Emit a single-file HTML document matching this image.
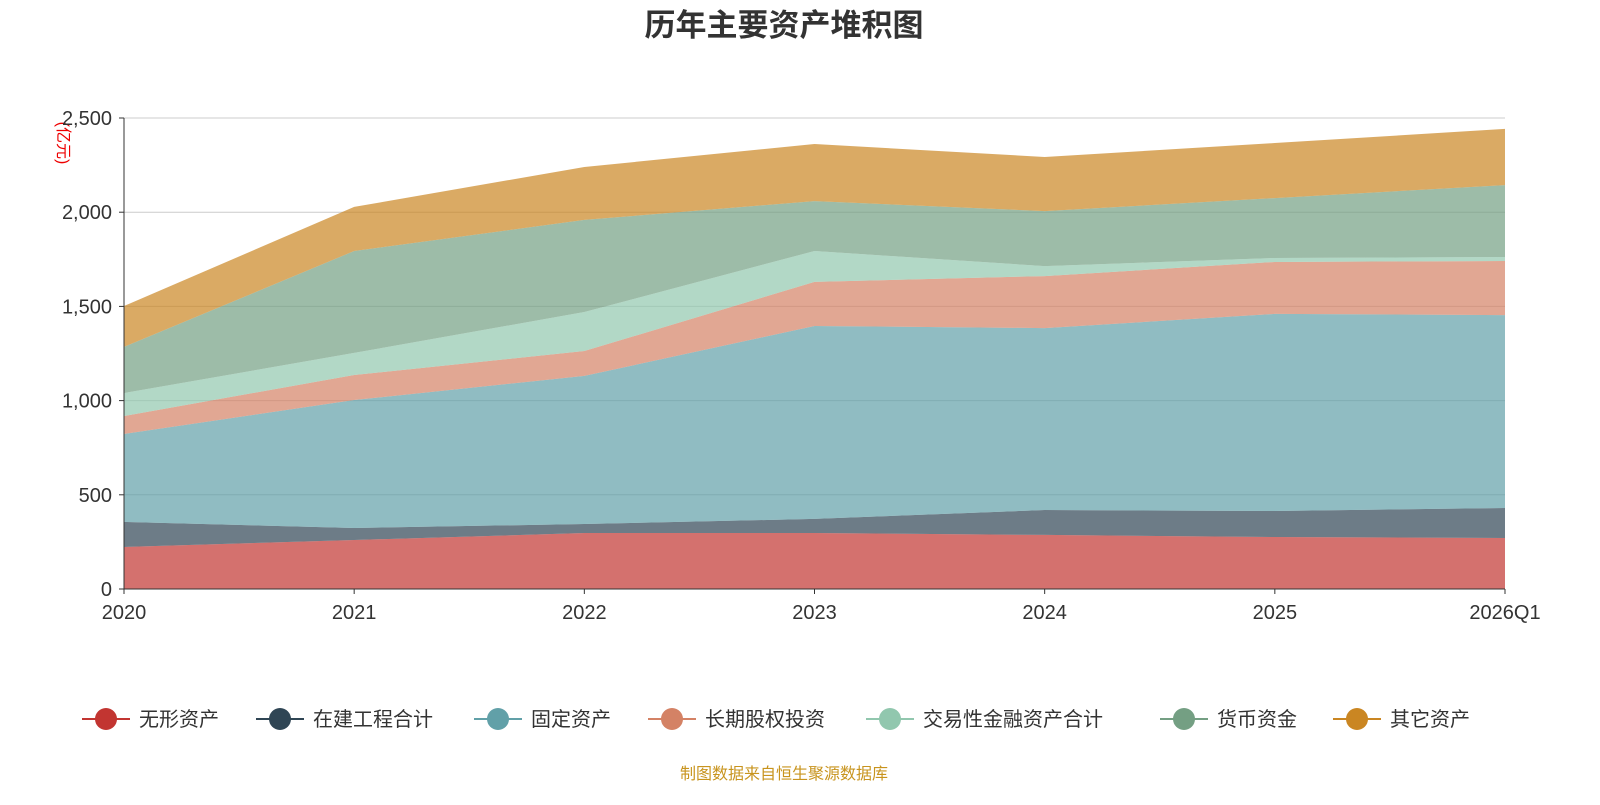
<!DOCTYPE html>
<html><head><meta charset="utf-8">
<style>
body{margin:0;background:#fff;font-family:"Liberation Sans","Noto Sans CJK SC",sans-serif;}
svg text{font-family:"Liberation Sans","Noto Sans CJK SC",sans-serif;}
</style></head>
<body>
<svg id="chart" width="1600" height="800" xmlns="http://www.w3.org/2000/svg">
<text x="784" y="36" text-anchor="middle" font-size="31" font-weight="bold" fill="#333">历年主要资产堆积图</text>
<text transform="translate(58,143) rotate(90)" text-anchor="middle" font-size="16" fill="#e00">(亿元)</text>
<text x="784" y="779" text-anchor="middle" font-size="16" fill="#c8941e">制图数据来自恒生聚源数据库</text>
<g id="grid"></g><g id="areas"></g><g id="axes"></g><g id="legend"></g>
</svg>
<script>
const categories=["2020","2021","2022","2023","2024","2025","2026Q1"];
const seriesNames=["无形资产","在建工程合计","固定资产","长期股权投资","交易性金融资产合计","货币资金","其它资产"];
const wuxing=[223,260,297,297,287,276,271];
const zaijian=[133,64,48,75,132,138,159];
const guding=[467,679,786,1024,966,1046,1024];
const changqi=[95,133,132,234,276,276,287];
const jiaoyi=[122,117,207,164,53,21,21];
const huobi=[245,541,489,265,292,318,382];
const qita=[217,234,281,303,287,292,298];
const yTicks=[0,500,1000,1500,2000,2500];
const yTickLabels=["0","500","1,000","1,500","2,000","2,500"];
const seriesValues=[wuxing,zaijian,guding,changqi,jiaoyi,huobi,qita];
const colors=["#c23531","#2f4554","#61a0a8","#d48265","#91c7ae","#749f83","#ca8622"];
const X0=124,X1=1505,Y0=589,YTOP=118,YMAX=2500;
const xs=i=>X0+(X1-X0)*i/(categories.length-1);
const ys=v=>Y0-(Y0-YTOP)*v/YMAX;
const NS="http://www.w3.org/2000/svg";
function mk(tag,attrs,parent){const e=document.createElementNS(NS,tag);for(const k in attrs)e.setAttribute(k,attrs[k]);parent.appendChild(e);return e;}
const grid=document.getElementById('grid'),areas=document.getElementById('areas'),axes=document.getElementById('axes'),legend=document.getElementById('legend');
yTicks.forEach((t,i)=>{
  if(t>0){const l=mk('line',{x1:X0,x2:X1,y1:ys(t),y2:ys(t),stroke:'#ccc','stroke-width':1},grid);
  
  }
  const tk=mk('line',{x1:X0-5,x2:X0,y1:ys(t),y2:ys(t),stroke:'#333'},axes);
  
  
  const tx=mk('text',{x:X0-12,y:ys(t)+7,'text-anchor':'end','font-size':20,fill:'#333'},axes);
  tx.textContent=yTickLabels[i];
  
  
});
let base=categories.map(()=>0);
seriesValues.forEach((vals,s)=>{
  const top=base.map((b,i)=>b+vals[i]);
  let d='M'+categories.map((c,i)=>xs(i)+','+ys(top[i])).join(' L');
  for(let i=categories.length-1;i>=0;i--)d+=' L'+xs(i)+','+ys(base[i]);
  d+='Z';
  const p=mk('path',{d:d,fill:colors[s],'fill-opacity':0.7,stroke:'none'},areas);
  
  
  base=top;
});
const ya=mk('line',{x1:X0,x2:X0,y1:YTOP,y2:Y0,stroke:'#333'},axes);


const xa=mk('line',{x1:X0,x2:X1,y1:Y0,y2:Y0,stroke:'#333'},axes);


categories.forEach((c,i)=>{
  const tk=mk('line',{x1:xs(i),x2:xs(i),y1:Y0,y2:Y0+5,stroke:'#333'},axes);
  
  
  const tx=mk('text',{x:xs(i),y:Y0+30,'text-anchor':'middle','font-size':20,fill:'#333'},axes);
  tx.textContent=c;
  
  
});
const legendX=[106,280,498,672,890,1184,1357];
seriesNames.forEach((n,s)=>{
  const g=mk('g',{},legend);
  
  
  const cx=legendX[s];
  mk('line',{x1:cx-24,x2:cx+24,y1:719,y2:719,stroke:colors[s],'stroke-width':2},g);
  mk('circle',{cx:cx,cy:719,r:11,fill:colors[s]},g);
  const t=mk('text',{x:cx+33,y:726,'font-size':20,fill:'#333'},g);
  t.textContent=n;
});
</script>
</body></html>
